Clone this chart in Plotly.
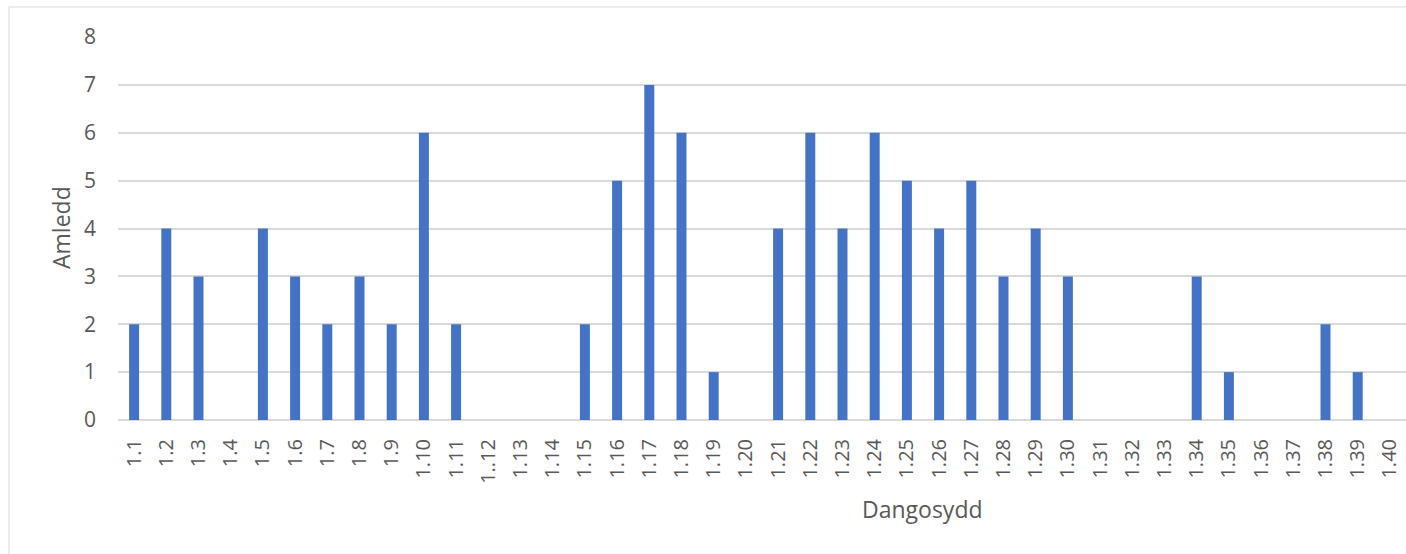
import plotly.graph_objects as go

categories = ["1.1", "1.2", "1.3", "1.4", "1.5", "1.6", "1.7", "1.8", "1.9", "1.10",
              "1.11", "1..12", "1.13", "1.14", "1.15", "1.16", "1.17", "1.18", "1.19", "1.20",
              "1.21", "1.22", "1.23", "1.24", "1.25", "1.26", "1.27", "1.28", "1.29", "1.30",
              "1.31", "1.32", "1.33", "1.34", "1.35", "1.36", "1.37", "1.38", "1.39", "1.40"]
values = [2, 4, 3, 0, 4, 3, 2, 3, 2, 6,
          2, 0, 0, 0, 2, 5, 7, 6, 1, 0,
          4, 6, 4, 6, 5, 4, 5, 3, 4, 3,
          0, 0, 0, 3, 1, 0, 0, 2, 1, 0]
y_ticks = [0, 1, 2, 3, 4, 5, 6, 7, 8]

W, H = 1406, 554
ML, MR, MT, MB = 118, 0, 37, 134
pw, ph = W - ML - MR, H - MT - MB

def px(x):
    return (x - ML) / pw

def py(y):
    return (H - MB - y) / ph

font_family = "Open Sans, Noto Sans, sans-serif"
gray = "#595959"

fig = go.Figure(go.Bar(x=categories, y=values, marker=dict(color="#4472C4", line=dict(width=0)),
                       hoverinfo="x+y"))

fig.update_layout(
    width=W, height=H,
    margin=dict(l=ML, r=MR, t=MT, b=MB),
    paper_bgcolor="white", plot_bgcolor="white",
    bargap=0.69,
    showlegend=False,
    font=dict(family=font_family, color=gray),
    xaxis=dict(type="category", categoryorder="array", categoryarray=categories,
               tickangle=-90, tickfont=dict(size=20, color=gray), showgrid=False,
               showline=False, ticks="", zeroline=False, ticklabelstandoff=14),
    yaxis=dict(range=[0, 8], tickvals=y_ticks, tickfont=dict(size=21, color=gray),
               showgrid=True, gridcolor="#d9d9d9", gridwidth=1.5, zeroline=True,
               zerolinecolor="#d9d9d9", zerolinewidth=1.5, showline=False, ticks="",
               ticklabelstandoff=21),
    annotations=[
        dict(text="Amledd", x=px(61), y=py(228), xref="paper", yref="paper", showarrow=False,
             textangle=-90, font=dict(size=23, color=gray), xanchor="center", yanchor="middle"),
        dict(text="Dangosydd", x=px(922), y=py(509), xref="paper", yref="paper", showarrow=False,
             font=dict(size=23, color=gray), xanchor="center", yanchor="middle"),
    ],
    shapes=[
        dict(type="rect", xref="paper", yref="paper", x0=px(9), x1=px(1420), y0=py(570), y1=py(7),
             line=dict(color="#d9d9d9", width=1), fillcolor="rgba(0,0,0,0)", layer="below"),
    ],
)

fig.write_html("out.html", config={"displayModeBar": False},
               post_script="document.body.style.margin='0';document.body.style.overflow='hidden';")
